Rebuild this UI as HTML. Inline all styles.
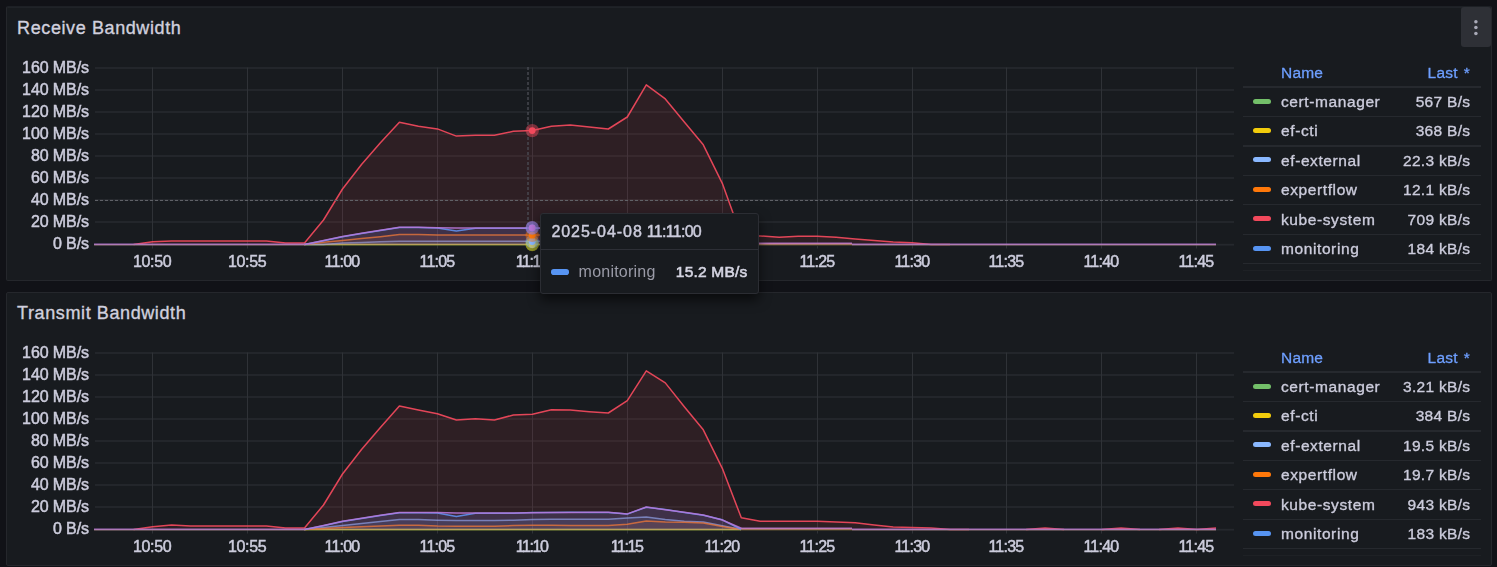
<!DOCTYPE html>
<html><head><meta charset="utf-8"><title>Bandwidth</title>
<style>
html,body{margin:0;padding:0;}
body{width:1497px;height:567px;overflow:hidden;background:#111217;position:relative;font-family:"Liberation Sans",sans-serif;color:#ccccdc;}
.gs{position:absolute;left:0;top:0;width:1497px;height:567px;will-change:transform;}
.panel{position:absolute;left:6px;width:1484px;height:273px;background:#181b1f;border:1px solid #25272c;border-radius:2px;}
.title{position:absolute;left:17.1px;font-size:18px;line-height:20px;letter-spacing:0.6px;color:#d0d0de;white-space:nowrap;-webkit-text-stroke:0.35px #d0d0de;}
svg.chart{position:absolute;left:0;top:0;}
svg text{font-family:"Liberation Sans",sans-serif;fill:#ccccdc;stroke:#ccccdc;stroke-width:0.5px;}
.ax{font-size:16px;letter-spacing:-0.1px;}
.axx{font-size:16px;}
.menu{position:absolute;left:1461px;top:7px;width:30px;height:40px;background:#2e3036;border-radius:3px;}
.lh{position:absolute;font-size:15.5px;line-height:18px;color:#6e9fff;white-space:nowrap;letter-spacing:0.2px;-webkit-text-stroke:0.3px #6e9fff;}
.lh.r{text-align:right;word-spacing:1.6px;}
.sep{position:absolute;left:1243px;width:238px;height:1.4px;background:#26292e;}
.ic{position:absolute;left:1253px;width:18px;height:5px;border-radius:2.5px;}
.ln{position:absolute;left:1281px;font-size:15.5px;line-height:18px;letter-spacing:0.6px;-webkit-text-stroke:0.35px #ccccdc;white-space:nowrap;}
.lv{position:absolute;left:1370px;width:100.3px;text-align:right;font-size:15.5px;line-height:18px;letter-spacing:0.3px;-webkit-text-stroke:0.35px #ccccdc;white-space:nowrap;}
.tip{position:absolute;left:540px;top:213px;width:217px;height:79px;background:#181b1f;border:1px solid #2b2d33;border-radius:3px;box-shadow:0 6px 12px rgba(0,0,0,0.6);}
.tip .hd{position:absolute;left:10.4px;top:9px;font-size:16px;line-height:18px;white-space:nowrap;-webkit-text-stroke:0.45px #ccccdc;}
.tip .d1{letter-spacing:0.95px;}
.tip .d2{letter-spacing:-0.7px;margin-left:4px;}
.tip .sp{position:absolute;left:0;top:35px;width:217px;height:1px;background:#2d2f36;}
.tip .ic2{position:absolute;left:10px;top:55px;width:18px;height:5.6px;border-radius:2.8px;background:#5794F2;}
.tip .nm{position:absolute;left:37.6px;top:49px;font-size:16px;line-height:18px;letter-spacing:0.22px;color:#9a9ba7;white-space:nowrap;}
.tip .vl{position:absolute;right:10.6px;top:49px;font-size:15.5px;line-height:18px;letter-spacing:0.2px;white-space:nowrap;-webkit-text-stroke:0.6px #d5d5e2;color:#d5d5e2;}
</style></head><body>
<div class="panel" style="top:6px;border-top-color:#1d2025;box-shadow:inset 0 1px 0 #202328"></div>
<div class="panel" style="top:292px;height:272px"></div>
<div class="title" style="top:18px">Receive Bandwidth</div>
<div class="title" style="top:303px">Transmit Bandwidth</div>
<div class="gs"><div class="menu"><svg width="30" height="40" viewBox="0 0 30 40"><circle cx="14.9" cy="14.7" r="1.75" fill="#a9aab8"/><circle cx="14.9" cy="20.5" r="1.75" fill="#a9aab8"/><circle cx="14.9" cy="26.4" r="1.75" fill="#a9aab8"/></svg></div>
<svg class="chart" width="1497" height="567" viewBox="0 0 1497 567"><rect x="95" y="67.1" width="1139" height="1.8" fill="#25282d"/><rect x="95" y="89.1" width="1139" height="1.8" fill="#25282d"/><rect x="95" y="111.1" width="1139" height="1.8" fill="#25282d"/><rect x="95" y="133.1" width="1139" height="1.8" fill="#25282d"/><rect x="95" y="155.1" width="1139" height="1.8" fill="#25282d"/><rect x="95" y="177.1" width="1139" height="1.8" fill="#25282d"/><rect x="95" y="199.1" width="1139" height="1.8" fill="#25282d"/><rect x="95" y="221.1" width="1139" height="1.8" fill="#25282d"/><rect x="95" y="243.8" width="1139" height="1.8" fill="#25282d"/><rect x="152" y="67.5" width="1" height="181" fill="#2f3237"/><rect x="247" y="67.5" width="1" height="181" fill="#2f3237"/><rect x="342" y="67.5" width="1" height="181" fill="#2f3237"/><rect x="437" y="67.5" width="1" height="181" fill="#2f3237"/><rect x="532" y="67.5" width="1" height="181" fill="#2f3237"/><rect x="627" y="67.5" width="1" height="181" fill="#2f3237"/><rect x="722" y="67.5" width="1" height="181" fill="#2f3237"/><rect x="817" y="67.5" width="1" height="181" fill="#2f3237"/><rect x="912" y="67.5" width="1" height="181" fill="#2f3237"/><rect x="1006" y="67.5" width="1" height="181" fill="#2f3237"/><rect x="1101" y="67.5" width="1" height="181" fill="#2f3237"/><rect x="1196" y="67.5" width="1" height="181" fill="#2f3237"/><text x="88.9" y="72.5" text-anchor="end" class="ax">160 MB/s</text><text x="88.9" y="94.5" text-anchor="end" class="ax">140 MB/s</text><text x="88.9" y="116.5" text-anchor="end" class="ax">120 MB/s</text><text x="88.9" y="138.5" text-anchor="end" class="ax">100 MB/s</text><text x="88.9" y="160.5" text-anchor="end" class="ax">80 MB/s</text><text x="88.9" y="182.5" text-anchor="end" class="ax">60 MB/s</text><text x="88.9" y="204.5" text-anchor="end" class="ax">40 MB/s</text><text x="88.9" y="226.5" text-anchor="end" class="ax">20 MB/s</text><text x="88.9" y="248.5" text-anchor="end" class="ax">0 B/s</text><text x="133.0" y="266.8" textLength="38.7" lengthAdjust="spacing" class="axx">10:50</text><text x="228.0" y="266.8" textLength="38.7" lengthAdjust="spacing" class="axx">10:55</text><text x="324.6" y="266.8" textLength="35.5" lengthAdjust="spacing" class="axx">11:00</text><text x="419.6" y="266.8" textLength="35.5" lengthAdjust="spacing" class="axx">11:05</text><text x="515.7" y="266.8" textLength="33.2" lengthAdjust="spacing" class="axx">11:10</text><text x="610.7" y="266.8" textLength="33.2" lengthAdjust="spacing" class="axx">11:15</text><text x="704.4" y="266.8" textLength="35.8" lengthAdjust="spacing" class="axx">11:20</text><text x="799.4" y="266.8" textLength="35.8" lengthAdjust="spacing" class="axx">11:25</text><text x="894.4" y="266.8" textLength="35.8" lengthAdjust="spacing" class="axx">11:30</text><text x="988.4" y="266.8" textLength="35.8" lengthAdjust="spacing" class="axx">11:35</text><text x="1083.4" y="266.8" textLength="35.8" lengthAdjust="spacing" class="axx">11:40</text><text x="1178.4" y="266.8" textLength="35.8" lengthAdjust="spacing" class="axx">11:45</text><path d="M304.5,244.4 L323.5,244.4 L342.5,244.4 L361.5,244.4 L380.4,244.4 L399.4,244.4 L418.4,244.4 L437.4,244.4 L456.4,244.4 L475.4,244.4 L494.4,244.4 L513.4,244.4 L532.4,244.4 L551.4,244.4 L551.4,244.9 L304.5,244.9 Z" fill="#73BF69" fill-opacity="0.1" stroke="none"/><path d="M304.5,244.4 L323.5,244.4 L342.5,244.4 L361.5,244.4 L380.4,244.4 L399.4,244.4 L418.4,244.4 L437.4,244.4 L456.4,244.4 L475.4,244.4 L494.4,244.4 L513.4,244.4 L532.4,244.4 L551.4,244.4" fill="none" stroke="#73BF69" stroke-width="1.5" stroke-opacity="0.8" stroke-linejoin="round"/><path d="M304.5,244.4 L323.5,244.4 L342.5,244.4 L361.5,244.4 L380.4,244.4 L399.4,244.4 L418.4,244.4 L437.4,244.4 L456.4,244.4 L475.4,244.4 L494.4,244.4 L513.4,244.4 L532.4,244.4 L551.4,244.4 L551.4,244.9 L304.5,244.9 Z" fill="#F2CC0C" fill-opacity="0.1" stroke="none"/><path d="M304.5,244.4 L323.5,244.4 L342.5,244.4 L361.5,244.4 L380.4,244.4 L399.4,244.4 L418.4,244.4 L437.4,244.4 L456.4,244.4 L475.4,244.4 L494.4,244.4 L513.4,244.4 L532.4,244.4 L551.4,244.4" fill="none" stroke="#F2CC0C" stroke-width="1.5" stroke-opacity="0.62" stroke-linejoin="round"/><path d="M304.5,244.4 L323.5,244.4 L342.5,243.0 L361.5,242.4 L380.4,241.8 L399.4,241.3 L418.4,241.3 L437.4,241.3 L456.4,241.3 L475.4,241.3 L494.4,241.3 L513.4,241.3 L532.4,241.3 L551.4,241.3 L551.4,244.9 L304.5,244.9 Z" fill="#8AB8FF" fill-opacity="0.1" stroke="none"/><path d="M304.5,244.4 L323.5,244.4 L342.5,243.0 L361.5,242.4 L380.4,241.8 L399.4,241.3 L418.4,241.3 L437.4,241.3 L456.4,241.3 L475.4,241.3 L494.4,241.3 L513.4,241.3 L532.4,241.3 L551.4,241.3" fill="none" stroke="#8AB8FF" stroke-width="1.5" stroke-opacity="0.68" stroke-linejoin="round"/><path d="M304.5,244.4 L323.5,242.2 L342.5,240.4 L361.5,238.6 L380.4,236.8 L399.4,234.6 L418.4,234.6 L437.4,234.9 L456.4,235.0 L475.4,235.0 L494.4,235.0 L513.4,235.0 L532.4,235.0 L551.4,235.0 L551.4,244.9 L304.5,244.9 Z" fill="#FF780A" fill-opacity="0.1" stroke="none"/><path d="M304.5,244.4 L323.5,242.2 L342.5,240.4 L361.5,238.6 L380.4,236.8 L399.4,234.6 L418.4,234.6 L437.4,234.9 L456.4,235.0 L475.4,235.0 L494.4,235.0 L513.4,235.0 L532.4,235.0 L551.4,235.0" fill="none" stroke="#FF780A" stroke-width="1.5" stroke-opacity="0.8" stroke-linejoin="round"/><path d="M133.6,244.4 L152.6,241.8 L171.6,241.0 L190.5,241.0 L209.5,241.0 L228.5,241.0 L247.5,241.0 L266.5,241.0 L285.5,242.9 L304.5,242.9 L323.5,220.0 L342.5,189.0 L361.5,164.5 L380.4,142.8 L399.4,122.2 L418.4,126.2 L437.4,128.9 L456.4,136.1 L475.4,135.2 L494.4,135.2 L513.4,131.3 L532.4,130.4 L551.4,126.2 L570.3,125.0 L589.3,127.0 L608.3,129.0 L627.3,117.0 L646.3,84.8 L665.3,98.9 L684.3,122.0 L703.3,144.8 L722.3,183.3 L741.3,236.0 L760.2,236.0 L779.2,237.2 L798.2,236.2 L817.2,236.2 L836.2,237.2 L855.2,239.0 L874.2,240.4 L893.2,242.1 L912.2,242.8 L931.2,244.4 L950.1,244.4 L950.1,244.9 L133.6,244.9 Z" fill="#F2495C" fill-opacity="0.1" stroke="none"/><path d="M133.6,244.4 L152.6,241.8 L171.6,241.0 L190.5,241.0 L209.5,241.0 L228.5,241.0 L247.5,241.0 L266.5,241.0 L285.5,242.9 L304.5,242.9 L323.5,220.0 L342.5,189.0 L361.5,164.5 L380.4,142.8 L399.4,122.2 L418.4,126.2 L437.4,128.9 L456.4,136.1 L475.4,135.2 L494.4,135.2 L513.4,131.3 L532.4,130.4 L551.4,126.2 L570.3,125.0 L589.3,127.0 L608.3,129.0 L627.3,117.0 L646.3,84.8 L665.3,98.9 L684.3,122.0 L703.3,144.8 L722.3,183.3 L741.3,236.0 L760.2,236.0 L779.2,237.2 L798.2,236.2 L817.2,236.2 L836.2,237.2 L855.2,239.0 L874.2,240.4 L893.2,242.1 L912.2,242.8 L931.2,244.4 L950.1,244.4" fill="none" stroke="#F2495C" stroke-width="1.5" stroke-opacity="0.93" stroke-linejoin="round"/><path d="M304.5,244.4 L323.5,240.7 L342.5,236.8 L361.5,233.6 L380.4,230.6 L399.4,227.6 L418.4,227.6 L437.4,228.0 L456.4,231.0 L475.4,228.2 L494.4,228.2 L513.4,228.2 L532.4,228.2 L551.4,228.2 L551.4,244.9 L304.5,244.9 Z" fill="#5794F2" fill-opacity="0.1" stroke="none"/><path d="M304.5,244.4 L323.5,240.7 L342.5,236.8 L361.5,233.6 L380.4,230.6 L399.4,227.6 L418.4,227.6 L437.4,228.0 L456.4,231.0 L475.4,228.2 L494.4,228.2 L513.4,228.2 L532.4,228.2 L551.4,228.2" fill="none" stroke="#5794F2" stroke-width="1.5" stroke-opacity="0.9" stroke-linejoin="round"/><path d="M304.5,244.4 L323.5,240.5 L342.5,236.5 L361.5,233.3 L380.4,230.3 L399.4,227.3 L418.4,227.3 L437.4,227.8 L456.4,228.0 L475.4,228.0 L494.4,228.0 L513.4,228.0 L532.4,228.0 L551.4,228.0 L551.4,244.9 L304.5,244.9 Z" fill="#B877D9" fill-opacity="0.1" stroke="none"/><path d="M304.5,244.4 L323.5,240.5 L342.5,236.5 L361.5,233.3 L380.4,230.3 L399.4,227.3 L418.4,227.3 L437.4,227.8 L456.4,228.0 L475.4,228.0 L494.4,228.0 L513.4,228.0 L532.4,228.0 L551.4,228.0" fill="none" stroke="#B877D9" stroke-width="1.5" stroke-opacity="0.88" stroke-linejoin="round"/><rect x="94" y="243" width="211" height="1" fill="#B877D9" fill-opacity="0.42"/><rect x="94" y="244" width="211" height="1" fill="#ae7ab6"/><rect x="94" y="245" width="211" height="1" fill="#b0868d" fill-opacity="0.4"/><rect x="759" y="242" width="93" height="1" fill="#B877D9" fill-opacity="0.42"/><rect x="759" y="243" width="93" height="1" fill="#be78b4"/><rect x="759" y="244" width="93" height="1" fill="#a0735f"/><rect x="759" y="245" width="93" height="1" fill="#3c3728"/><rect x="852" y="243" width="364" height="1" fill="#B877D9" fill-opacity="0.42"/><rect x="852" y="244" width="364" height="1" fill="#ae7ab6"/><rect x="852" y="245" width="364" height="1" fill="#b0868d" fill-opacity="0.4"/><line x1="528" y1="67" x2="528" y2="244.5" stroke="#4d4f57" stroke-width="1.3" stroke-dasharray="3 2"/><line x1="95" y1="200.45" x2="1234" y2="200.45" stroke="#63656c" stroke-width="1" stroke-dasharray="3 2"/><circle cx="532.2" cy="244.3" r="6.7" fill="#73BF69" fill-opacity="0.45"/><circle cx="532.2" cy="244.3" r="3.4" fill="#73BF69"/><circle cx="532.2" cy="244.5" r="6.7" fill="#F2CC0C" fill-opacity="0.45"/><circle cx="532.2" cy="244.5" r="3.4" fill="#F2CC0C"/><circle cx="532.2" cy="241.5" r="6.7" fill="#8AB8FF" fill-opacity="0.45"/><circle cx="532.2" cy="241.5" r="3.4" fill="#8AB8FF"/><circle cx="532.2" cy="235.2" r="6.7" fill="#FF780A" fill-opacity="0.45"/><circle cx="532.2" cy="235.2" r="3.4" fill="#FF780A"/><circle cx="532.2" cy="130.6" r="6.7" fill="#F2495C" fill-opacity="0.45"/><circle cx="532.2" cy="130.6" r="3.4" fill="#F2495C"/><circle cx="532.2" cy="228" r="6.7" fill="#5794F2" fill-opacity="0.45"/><circle cx="532.2" cy="228" r="3.4" fill="#5794F2"/><circle cx="532.2" cy="227.8" r="6.7" fill="#B877D9" fill-opacity="0.45"/><circle cx="532.2" cy="227.8" r="3.4" fill="#B877D9"/><rect x="95" y="352.1" width="1139" height="1.8" fill="#25282d"/><rect x="95" y="374.1" width="1139" height="1.8" fill="#25282d"/><rect x="95" y="396.1" width="1139" height="1.8" fill="#25282d"/><rect x="95" y="418.1" width="1139" height="1.8" fill="#25282d"/><rect x="95" y="440.1" width="1139" height="1.8" fill="#25282d"/><rect x="95" y="462.1" width="1139" height="1.8" fill="#25282d"/><rect x="95" y="484.1" width="1139" height="1.8" fill="#25282d"/><rect x="95" y="506.1" width="1139" height="1.8" fill="#25282d"/><rect x="95" y="528.8" width="1139" height="1.8" fill="#25282d"/><rect x="152" y="352.5" width="1" height="181" fill="#2f3237"/><rect x="247" y="352.5" width="1" height="181" fill="#2f3237"/><rect x="342" y="352.5" width="1" height="181" fill="#2f3237"/><rect x="437" y="352.5" width="1" height="181" fill="#2f3237"/><rect x="532" y="352.5" width="1" height="181" fill="#2f3237"/><rect x="627" y="352.5" width="1" height="181" fill="#2f3237"/><rect x="722" y="352.5" width="1" height="181" fill="#2f3237"/><rect x="817" y="352.5" width="1" height="181" fill="#2f3237"/><rect x="912" y="352.5" width="1" height="181" fill="#2f3237"/><rect x="1006" y="352.5" width="1" height="181" fill="#2f3237"/><rect x="1101" y="352.5" width="1" height="181" fill="#2f3237"/><rect x="1196" y="352.5" width="1" height="181" fill="#2f3237"/><text x="88.9" y="357.5" text-anchor="end" class="ax">160 MB/s</text><text x="88.9" y="379.5" text-anchor="end" class="ax">140 MB/s</text><text x="88.9" y="401.5" text-anchor="end" class="ax">120 MB/s</text><text x="88.9" y="423.5" text-anchor="end" class="ax">100 MB/s</text><text x="88.9" y="445.5" text-anchor="end" class="ax">80 MB/s</text><text x="88.9" y="467.5" text-anchor="end" class="ax">60 MB/s</text><text x="88.9" y="489.5" text-anchor="end" class="ax">40 MB/s</text><text x="88.9" y="511.5" text-anchor="end" class="ax">20 MB/s</text><text x="88.9" y="533.5" text-anchor="end" class="ax">0 B/s</text><text x="133.0" y="551.8" textLength="38.7" lengthAdjust="spacing" class="axx">10:50</text><text x="228.0" y="551.8" textLength="38.7" lengthAdjust="spacing" class="axx">10:55</text><text x="324.6" y="551.8" textLength="35.5" lengthAdjust="spacing" class="axx">11:00</text><text x="419.6" y="551.8" textLength="35.5" lengthAdjust="spacing" class="axx">11:05</text><text x="515.7" y="551.8" textLength="33.2" lengthAdjust="spacing" class="axx">11:10</text><text x="610.7" y="551.8" textLength="33.2" lengthAdjust="spacing" class="axx">11:15</text><text x="704.4" y="551.8" textLength="35.8" lengthAdjust="spacing" class="axx">11:20</text><text x="799.4" y="551.8" textLength="35.8" lengthAdjust="spacing" class="axx">11:25</text><text x="894.4" y="551.8" textLength="35.8" lengthAdjust="spacing" class="axx">11:30</text><text x="988.4" y="551.8" textLength="35.8" lengthAdjust="spacing" class="axx">11:35</text><text x="1083.4" y="551.8" textLength="35.8" lengthAdjust="spacing" class="axx">11:40</text><text x="1178.4" y="551.8" textLength="35.8" lengthAdjust="spacing" class="axx">11:45</text><path d="M304.5,529.5 L323.5,529.5 L342.5,529.5 L361.5,529.5 L380.4,529.5 L399.4,529.5 L418.4,529.5 L437.4,529.5 L456.4,529.5 L475.4,529.5 L494.4,529.5 L513.4,529.5 L532.4,529.5 L551.4,529.5 L570.3,529.5 L589.3,529.5 L608.3,529.5 L627.3,529.5 L646.3,529.5 L665.3,529.5 L684.3,529.5 L703.3,529.5 L722.3,529.5 L741.3,529.5 L741.3,529.9 L304.5,529.9 Z" fill="#73BF69" fill-opacity="0.1" stroke="none"/><path d="M304.5,529.5 L323.5,529.5 L342.5,529.5 L361.5,529.5 L380.4,529.5 L399.4,529.5 L418.4,529.5 L437.4,529.5 L456.4,529.5 L475.4,529.5 L494.4,529.5 L513.4,529.5 L532.4,529.5 L551.4,529.5 L570.3,529.5 L589.3,529.5 L608.3,529.5 L627.3,529.5 L646.3,529.5 L665.3,529.5 L684.3,529.5 L703.3,529.5 L722.3,529.5 L741.3,529.5" fill="none" stroke="#73BF69" stroke-width="1.5" stroke-opacity="0.8" stroke-linejoin="round"/><path d="M304.5,529.5 L323.5,529.5 L342.5,529.5 L361.5,529.5 L380.4,529.5 L399.4,529.5 L418.4,529.5 L437.4,529.5 L456.4,529.5 L475.4,529.5 L494.4,529.5 L513.4,529.5 L532.4,529.5 L551.4,529.5 L570.3,529.5 L589.3,529.5 L608.3,529.5 L627.3,529.5 L646.3,529.5 L665.3,529.5 L684.3,529.5 L703.3,529.5 L722.3,529.5 L741.3,529.5 L741.3,529.9 L304.5,529.9 Z" fill="#F2CC0C" fill-opacity="0.1" stroke="none"/><path d="M304.5,529.5 L323.5,529.5 L342.5,529.5 L361.5,529.5 L380.4,529.5 L399.4,529.5 L418.4,529.5 L437.4,529.5 L456.4,529.5 L475.4,529.5 L494.4,529.5 L513.4,529.5 L532.4,529.5 L551.4,529.5 L570.3,529.5 L589.3,529.5 L608.3,529.5 L627.3,529.5 L646.3,529.5 L665.3,529.5 L684.3,529.5 L703.3,529.5 L722.3,529.5 L741.3,529.5" fill="none" stroke="#F2CC0C" stroke-width="1.5" stroke-opacity="0.62" stroke-linejoin="round"/><path d="M304.5,529.5 L323.5,527.5 L342.5,525.5 L361.5,523.5 L380.4,521.5 L399.4,519.5 L418.4,519.5 L437.4,520.2 L456.4,520.5 L475.4,520.5 L494.4,520.5 L513.4,520.3 L532.4,519.5 L551.4,519.3 L570.3,519.2 L589.3,519.2 L608.3,519.2 L627.3,518.0 L646.3,517.0 L665.3,519.4 L684.3,521.2 L703.3,522.0 L722.3,525.7 L741.3,529.5 L741.3,529.9 L304.5,529.9 Z" fill="#8AB8FF" fill-opacity="0.1" stroke="none"/><path d="M304.5,529.5 L323.5,527.5 L342.5,525.5 L361.5,523.5 L380.4,521.5 L399.4,519.5 L418.4,519.5 L437.4,520.2 L456.4,520.5 L475.4,520.5 L494.4,520.5 L513.4,520.3 L532.4,519.5 L551.4,519.3 L570.3,519.2 L589.3,519.2 L608.3,519.2 L627.3,518.0 L646.3,517.0 L665.3,519.4 L684.3,521.2 L703.3,522.0 L722.3,525.7 L741.3,529.5" fill="none" stroke="#8AB8FF" stroke-width="1.5" stroke-opacity="0.68" stroke-linejoin="round"/><path d="M304.5,529.5 L323.5,528.4 L342.5,527.6 L361.5,526.8 L380.4,526.0 L399.4,525.2 L418.4,525.2 L437.4,526.0 L456.4,526.2 L475.4,526.2 L494.4,526.2 L513.4,525.6 L532.4,525.3 L551.4,525.3 L570.3,525.4 L589.3,525.4 L608.3,525.4 L627.3,524.2 L646.3,520.9 L665.3,522.0 L684.3,522.2 L703.3,523.0 L722.3,526.4 L741.3,529.5 L741.3,529.9 L304.5,529.9 Z" fill="#FF780A" fill-opacity="0.1" stroke="none"/><path d="M304.5,529.5 L323.5,528.4 L342.5,527.6 L361.5,526.8 L380.4,526.0 L399.4,525.2 L418.4,525.2 L437.4,526.0 L456.4,526.2 L475.4,526.2 L494.4,526.2 L513.4,525.6 L532.4,525.3 L551.4,525.3 L570.3,525.4 L589.3,525.4 L608.3,525.4 L627.3,524.2 L646.3,520.9 L665.3,522.0 L684.3,522.2 L703.3,523.0 L722.3,526.4 L741.3,529.5" fill="none" stroke="#FF780A" stroke-width="1.5" stroke-opacity="0.8" stroke-linejoin="round"/><path d="M133.6,529.5 L152.6,526.8 L171.6,525.0 L190.5,526.0 L209.5,526.0 L228.5,526.0 L247.5,526.0 L266.5,526.0 L285.5,527.9 L304.5,527.9 L323.5,505.0 L342.5,474.0 L361.5,449.5 L380.4,427.5 L399.4,406.0 L418.4,410.0 L437.4,413.7 L456.4,420.0 L475.4,418.7 L494.4,420.0 L513.4,415.0 L532.4,414.2 L551.4,409.7 L570.3,410.0 L589.3,411.7 L608.3,413.0 L627.3,400.6 L646.3,370.8 L665.3,382.9 L684.3,406.7 L703.3,429.8 L722.3,468.3 L741.3,517.8 L760.2,521.2 L779.2,521.2 L798.2,521.2 L817.2,521.2 L836.2,522.0 L855.2,522.8 L874.2,525.0 L893.2,526.9 L912.2,527.6 L931.2,528.0 L950.1,529.5 L969.1,529.5 L969.1,529.9 L133.6,529.9 Z" fill="#F2495C" fill-opacity="0.1" stroke="none"/><path d="M133.6,529.5 L152.6,526.8 L171.6,525.0 L190.5,526.0 L209.5,526.0 L228.5,526.0 L247.5,526.0 L266.5,526.0 L285.5,527.9 L304.5,527.9 L323.5,505.0 L342.5,474.0 L361.5,449.5 L380.4,427.5 L399.4,406.0 L418.4,410.0 L437.4,413.7 L456.4,420.0 L475.4,418.7 L494.4,420.0 L513.4,415.0 L532.4,414.2 L551.4,409.7 L570.3,410.0 L589.3,411.7 L608.3,413.0 L627.3,400.6 L646.3,370.8 L665.3,382.9 L684.3,406.7 L703.3,429.8 L722.3,468.3 L741.3,517.8 L760.2,521.2 L779.2,521.2 L798.2,521.2 L817.2,521.2 L836.2,522.0 L855.2,522.8 L874.2,525.0 L893.2,526.9 L912.2,527.6 L931.2,528.0 L950.1,529.5 L969.1,529.5" fill="none" stroke="#F2495C" stroke-width="1.5" stroke-opacity="0.93" stroke-linejoin="round"/><path d="M1026.1,529.5 L1045.1,528.1 L1064.1,529.5 L1064.1,529.9 L1026.1,529.9 Z" fill="#F2495C" fill-opacity="0.1" stroke="none"/><path d="M1026.1,529.5 L1045.1,528.1 L1064.1,529.5" fill="none" stroke="#F2495C" stroke-width="1.5" stroke-opacity="0.93" stroke-linejoin="round"/><path d="M1102.1,529.5 L1121.1,528.1 L1140.0,529.5 L1140.0,529.9 L1102.1,529.9 Z" fill="#F2495C" fill-opacity="0.1" stroke="none"/><path d="M1102.1,529.5 L1121.1,528.1 L1140.0,529.5" fill="none" stroke="#F2495C" stroke-width="1.5" stroke-opacity="0.93" stroke-linejoin="round"/><path d="M1159.0,529.5 L1178.0,528.1 L1197.0,529.5 L1197.0,529.9 L1159.0,529.9 Z" fill="#F2495C" fill-opacity="0.1" stroke="none"/><path d="M1159.0,529.5 L1178.0,528.1 L1197.0,529.5" fill="none" stroke="#F2495C" stroke-width="1.5" stroke-opacity="0.93" stroke-linejoin="round"/><path d="M1197.0,529.5 L1216.0,528.1 L1216.0,529.9 L1197.0,529.9 Z" fill="#F2495C" fill-opacity="0.1" stroke="none"/><path d="M1197.0,529.5 L1216.0,528.1" fill="none" stroke="#F2495C" stroke-width="1.5" stroke-opacity="0.93" stroke-linejoin="round"/><path d="M304.5,529.5 L323.5,525.7 L342.5,521.5 L361.5,518.6 L380.4,515.6 L399.4,512.8 L418.4,512.8 L437.4,512.9 L456.4,516.4 L475.4,513.2 L494.4,513.2 L513.4,513.2 L532.4,512.6 L551.4,512.4 L570.3,512.3 L589.3,512.5 L608.3,512.5 L627.3,514.1 L646.3,507.2 L665.3,509.5 L684.3,512.4 L703.3,515.2 L722.3,519.8 L741.3,529.5 L741.3,529.9 L304.5,529.9 Z" fill="#5794F2" fill-opacity="0.1" stroke="none"/><path d="M304.5,529.5 L323.5,525.7 L342.5,521.5 L361.5,518.6 L380.4,515.6 L399.4,512.8 L418.4,512.8 L437.4,512.9 L456.4,516.4 L475.4,513.2 L494.4,513.2 L513.4,513.2 L532.4,512.6 L551.4,512.4 L570.3,512.3 L589.3,512.5 L608.3,512.5 L627.3,514.1 L646.3,507.2 L665.3,509.5 L684.3,512.4 L703.3,515.2 L722.3,519.8 L741.3,529.5" fill="none" stroke="#5794F2" stroke-width="1.5" stroke-opacity="0.9" stroke-linejoin="round"/><path d="M304.5,529.5 L323.5,525.5 L342.5,521.2 L361.5,518.3 L380.4,515.3 L399.4,512.5 L418.4,512.5 L437.4,512.6 L456.4,513.0 L475.4,513.0 L494.4,513.0 L513.4,513.0 L532.4,512.8 L551.4,512.6 L570.3,512.5 L589.3,512.2 L608.3,512.2 L627.3,513.9 L646.3,507.0 L665.3,509.7 L684.3,512.2 L703.3,515.0 L722.3,520.0 L741.3,528.2 L741.3,529.9 L304.5,529.9 Z" fill="#B877D9" fill-opacity="0.1" stroke="none"/><path d="M304.5,529.5 L323.5,525.5 L342.5,521.2 L361.5,518.3 L380.4,515.3 L399.4,512.5 L418.4,512.5 L437.4,512.6 L456.4,513.0 L475.4,513.0 L494.4,513.0 L513.4,513.0 L532.4,512.8 L551.4,512.6 L570.3,512.5 L589.3,512.2 L608.3,512.2 L627.3,513.9 L646.3,507.0 L665.3,509.7 L684.3,512.2 L703.3,515.0 L722.3,520.0 L741.3,528.2" fill="none" stroke="#B877D9" stroke-width="1.5" stroke-opacity="0.88" stroke-linejoin="round"/><rect x="94" y="528" width="211" height="1" fill="#B877D9" fill-opacity="0.42"/><rect x="94" y="529" width="211" height="1" fill="#ae7ab6"/><rect x="94" y="530" width="211" height="1" fill="#b0868d" fill-opacity="0.4"/><rect x="741" y="527" width="111" height="1" fill="#B877D9" fill-opacity="0.42"/><rect x="741" y="528" width="111" height="1" fill="#be78b4"/><rect x="741" y="529" width="111" height="1" fill="#a0735f"/><rect x="741" y="530" width="111" height="1" fill="#3c3728"/><rect x="852" y="528" width="364" height="1" fill="#B877D9" fill-opacity="0.42"/><rect x="852" y="529" width="364" height="1" fill="#ae7ab6"/><rect x="852" y="530" width="364" height="1" fill="#b0868d" fill-opacity="0.4"/></svg>
<div class="lh" style="left:1281px;top:64px">Name</div><div class="lh r" style="left:1370px;width:100px;top:64px">Last *</div><div class="sep" style="top:86.3px"></div><div class="sep" style="top:115.8px"></div><div class="sep" style="top:145.2px"></div><div class="sep" style="top:174.7px"></div><div class="sep" style="top:204.1px"></div><div class="sep" style="top:233.6px"></div><div class="sep" style="top:263.0px"></div><div class="sep" style="top:269.8px;height:1px;background:#1e2125"></div><div class="ic" style="top:98.5px;background:#73BF69"></div><div class="ln" style="top:92.9px">cert-manager</div><div class="lv" style="top:92.9px">567 B/s</div><div class="ic" style="top:128.0px;background:#F2CC0C"></div><div class="ln" style="top:122.3px">ef-cti</div><div class="lv" style="top:122.3px">368 B/s</div><div class="ic" style="top:157.4px;background:#8AB8FF"></div><div class="ln" style="top:151.8px">ef-external</div><div class="lv" style="top:151.8px">22.3 kB/s</div><div class="ic" style="top:186.8px;background:#FF780A"></div><div class="ln" style="top:181.2px">expertflow</div><div class="lv" style="top:181.2px">12.1 kB/s</div><div class="ic" style="top:216.3px;background:#F2495C"></div><div class="ln" style="top:210.7px">kube-system</div><div class="lv" style="top:210.7px">709 kB/s</div><div class="ic" style="top:245.8px;background:#5794F2"></div><div class="ln" style="top:240.2px">monitoring</div><div class="lv" style="top:240.2px">184 kB/s</div>
<div class="lh" style="left:1281px;top:349px">Name</div><div class="lh r" style="left:1370px;width:100px;top:349px">Last *</div><div class="sep" style="top:371.3px"></div><div class="sep" style="top:400.8px"></div><div class="sep" style="top:430.2px"></div><div class="sep" style="top:459.7px"></div><div class="sep" style="top:489.1px"></div><div class="sep" style="top:518.5px"></div><div class="sep" style="top:548.0px"></div><div class="sep" style="top:554.8px;height:1px;background:#1e2125"></div><div class="ic" style="top:383.5px;background:#73BF69"></div><div class="ln" style="top:377.9px">cert-manager</div><div class="lv" style="top:377.9px">3.21 kB/s</div><div class="ic" style="top:412.9px;background:#F2CC0C"></div><div class="ln" style="top:407.3px">ef-cti</div><div class="lv" style="top:407.3px">384 B/s</div><div class="ic" style="top:442.4px;background:#8AB8FF"></div><div class="ln" style="top:436.8px">ef-external</div><div class="lv" style="top:436.8px">19.5 kB/s</div><div class="ic" style="top:471.9px;background:#FF780A"></div><div class="ln" style="top:466.2px">expertflow</div><div class="lv" style="top:466.2px">19.7 kB/s</div><div class="ic" style="top:501.3px;background:#F2495C"></div><div class="ln" style="top:495.7px">kube-system</div><div class="lv" style="top:495.7px">943 kB/s</div><div class="ic" style="top:530.8px;background:#5794F2"></div><div class="ln" style="top:525.1px">monitoring</div><div class="lv" style="top:525.1px">183 kB/s</div>
<div class="tip"><div class="hd"><span class="d1">2025-04-08</span><span class="d2">11:11:00</span></div><div class="sp"></div><div class="ic2"></div><div class="nm">monitoring</div><div class="vl">15.2 MB/s</div></div>
</div></body></html>
